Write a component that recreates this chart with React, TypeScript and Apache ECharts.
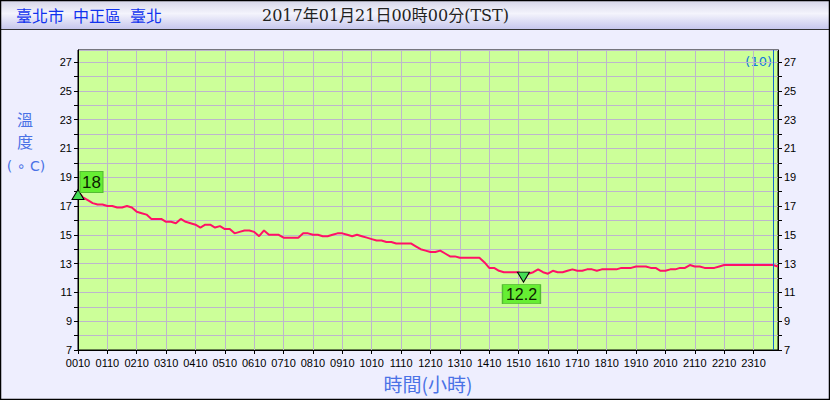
import React, { useEffect, useRef } from "react";
import * as echarts from "echarts";

// 10-minute observations from 00:10 to 24:00
const temps: number[] = [
  18.0, 17.6, 17.4, 17.2, 17.1, 17.1, 17.0, 17.0, 16.9, 16.9, 17.0, 16.9,
  16.6, 16.5, 16.4, 16.1, 16.1, 16.1, 15.9, 15.9, 15.8, 16.1, 15.9, 15.8,
  15.7, 15.5, 15.7, 15.7, 15.5, 15.6, 15.4, 15.4, 15.1, 15.2, 15.3, 15.3,
  15.2, 14.9, 15.3, 15.0, 15.0, 15.0, 14.8, 14.8, 14.8, 14.8, 15.1, 15.1,
  15.0, 15.0, 14.9, 14.9, 15.0, 15.1, 15.1, 15.0, 14.9, 15.0, 14.9, 14.8,
  14.7, 14.6, 14.6, 14.5, 14.5, 14.4, 14.4, 14.4, 14.4, 14.2, 14.0, 13.9,
  13.8, 13.8, 13.9, 13.7, 13.5, 13.5, 13.4, 13.4, 13.4, 13.4, 13.4, 13.1,
  12.7, 12.7, 12.5, 12.4, 12.4, 12.4, 12.4, 12.2, 12.3, 12.4, 12.6, 12.4,
  12.3, 12.5, 12.4, 12.4, 12.5, 12.6, 12.5, 12.5, 12.6, 12.6, 12.5, 12.6,
  12.6, 12.6, 12.6, 12.7, 12.7, 12.7, 12.8, 12.8, 12.8, 12.7, 12.7, 12.5,
  12.5, 12.6, 12.6, 12.7, 12.7, 12.9, 12.8, 12.8, 12.7, 12.7, 12.7, 12.8,
  12.9, 12.9, 12.9, 12.9, 12.9, 12.9, 12.9, 12.9, 12.9, 12.9, 12.9, 12.8,
];

const times: string[] = [];
for (let h = 0; h < 24; h++) {
  for (let m = 10; m <= 60; m += 10) {
    const hh = m === 60 ? h + 1 : h;
    const mm = m === 60 ? 0 : m;
    times.push(String(hh).padStart(2, "0") + String(mm).padStart(2, "0"));
  }
}

const maxIndex = 0;
const maxLabel = "18";
const minIndex = 91;
const minLabel = "12.2";
const markerIndex = 142;

const titleLocation = ["臺北市", "中正區", "臺北"];
const titleTime = "2017年01月21日00時00分(TST)";
const yName = ["溫", "度", "( ∘ C)"];
const xName = "時間(小時)";
const cornerTag = "(10)";

export default function App() {
  const ref = useRef<HTMLDivElement>(null);
  useEffect(() => {
    if (!ref.current) return;
    const chart = echarts.init(ref.current, undefined, { renderer: "svg" });
    const yLabelFmt = (v: number) => {
      const r = Math.round(v);
      return Math.abs(v - r) < 1e-6 && Math.abs(r % 2) === 1 ? String(r) : "";
    };
    const yAxisBase = {
      type: "value" as const,
      min: 7,
      max: 27.83,
      interval: 1,
      axisLine: { show: true, lineStyle: { color: "#000", width: 1 } },
      axisTick: { show: true, length: 4, lineStyle: { color: "#000" } },
      axisLabel: {
        formatter: yLabelFmt,
        color: "#000",
        fontFamily: "Liberation Sans",
        fontSize: 11,
        margin: 6,
        showMaxLabel: false,
      },
    };
    const locX = [16, 73, 130];
    chart.setOption({
      animation: false,
      backgroundColor: "#eeeefe",
      grid: {
        left: 78,
        right: 52,
        top: 50,
        bottom: 50,
        show: true,
        backgroundColor: "#ccff99",
        borderColor: "#000",
        borderWidth: 1,
      },
      xAxis: {
        type: "category",
        data: times,
        boundaryGap: false,
        axisLine: { lineStyle: { color: "#000", width: 1 } },
        axisTick: { show: true, interval: 5, length: 4, lineStyle: { color: "#000" } },
        axisLabel: {
          interval: 5,
          color: "#000",
          fontFamily: "Liberation Sans",
          fontSize: 11,
          margin: 7,
        },
        splitLine: { show: true, interval: 5, lineStyle: { color: "#bdb6cc", width: 1 } },
      },
      yAxis: [
        {
          ...yAxisBase,
          position: "left",
          splitLine: { show: true, lineStyle: { color: "#bdb6cc", width: 1 } },
        },
        {
          ...yAxisBase,
          position: "right",
          splitLine: { show: false },
        },
      ],
      series: [
        {
          type: "line",
          data: temps,
          yAxisIndex: 0,
          symbol: "none",
          lineStyle: { color: "#ff1166", width: 2 },
          markLine: {
            silent: true,
            symbol: "none",
            label: { show: false },
            lineStyle: { color: "#1166cc", width: 1, type: "solid" },
            data: [{ xAxis: markerIndex }],
          },
          markPoint: {
            silent: true,
            data: [
              {
                coord: [maxIndex, temps[maxIndex]],
                symbol: "triangle",
                symbolSize: [12, 10],
                symbolOffset: [0, 3],
                itemStyle: { color: "#44dd55", borderColor: "#000", borderWidth: 1 },
                label: { show: false },
              },
              {
                coord: [maxIndex, temps[maxIndex]],
                symbol: "rect",
                symbolSize: [23, 21],
                symbolOffset: [13.5, -9.5],
                itemStyle: { color: "#66ee33", borderColor: "#55bb33", borderWidth: 1 },
                label: {
                  show: true,
                  position: "inside",
                  formatter: maxLabel,
                  color: "#0c2200",
                  fontFamily: "Liberation Sans",
                  fontSize: 17,
                },
              },
              {
                coord: [minIndex, temps[minIndex]],
                symbol: "triangle",
                symbolRotate: 180,
                symbolSize: [12, 10],
                symbolOffset: [0, 2],
                itemStyle: { color: "#44dd55", borderColor: "#000", borderWidth: 1 },
                label: { show: false },
              },
              {
                coord: [minIndex, temps[minIndex]],
                symbol: "rect",
                symbolSize: [38, 19],
                symbolOffset: [-2, 19],
                itemStyle: { color: "#66ee33", borderColor: "#55bb33", borderWidth: 1 },
                label: {
                  show: true,
                  position: "inside",
                  formatter: minLabel,
                  color: "#0c2200",
                  fontFamily: "Liberation Sans",
                  fontSize: 16,
                },
              },
            ],
          },
        },
      ],
      graphic: [
        {
          type: "rect",
          z: -1,
          shape: { x: 0, y: 0, width: 830, height: 30 },
          style: {
            fill: new echarts.graphic.LinearGradient(0, 0, 0, 1, [
              { offset: 0, color: "#d4d4e8" },
              { offset: 0.45, color: "#f4f4fc" },
              { offset: 1, color: "#c4c4ec" },
            ]),
          },
        },
        {
          type: "line",
          shape: { x1: 0, y1: 29.5, x2: 830, y2: 29.5 },
          style: { stroke: "#333", lineWidth: 1 },
        },
        {
          type: "rect",
          shape: { x: 0.5, y: 0.5, width: 829, height: 399 },
          style: { fill: "none", stroke: "#000", lineWidth: 1.5 },
        },
        ...titleLocation.map((t, i) => ({
          type: "text",
          style: {
            text: t,
            x: locX[i],
            y: 15,
            textVerticalAlign: "middle",
            fill: "#1133ee",
            font: '16px "Noto Sans CJK TC"',
          },
        })),
        {
          type: "text",
          style: {
            text: titleTime,
            x: 262,
            y: 15,
            textVerticalAlign: "middle",
            fill: "#222",
            font: '16px "DejaVu Serif", "Noto Sans CJK TC"',
          },
        },
        {
          type: "text",
          style: {
            text: yName[0],
            x: 25,
            y: 119,
            textAlign: "center",
            textVerticalAlign: "middle",
            fill: "#4a72e6",
            font: '16px "Noto Sans CJK TC"',
          },
        },
        {
          type: "text",
          style: {
            text: yName[1],
            x: 25,
            y: 141,
            textAlign: "center",
            textVerticalAlign: "middle",
            fill: "#4a72e6",
            font: '16px "Noto Sans CJK TC"',
          },
        },
        {
          type: "text",
          style: {
            text: yName[2],
            x: 26,
            y: 166,
            textAlign: "center",
            textVerticalAlign: "middle",
            fill: "#4a72e6",
            font: '14px "DejaVu Sans"',
          },
        },
        {
          type: "text",
          style: {
            text: xName,
            x: 428,
            y: 383,
            textAlign: "center",
            textVerticalAlign: "middle",
            fill: "#4a72e6",
            font: '19px "Noto Sans CJK TC"',
          },
        },
        {
          type: "text",
          style: {
            text: cornerTag,
            x: 772,
            y: 61,
            textAlign: "right",
            textVerticalAlign: "middle",
            fill: "#1177dd",
            font: '13px "DejaVu Sans"',
          },
        },
      ],
    });
    return () => chart.dispose();
  }, []);
  return (
    <div
      ref={ref}
      style={{ position: "fixed", left: 0, top: 0, width: 830, height: 400 }}
    />
  );
}
